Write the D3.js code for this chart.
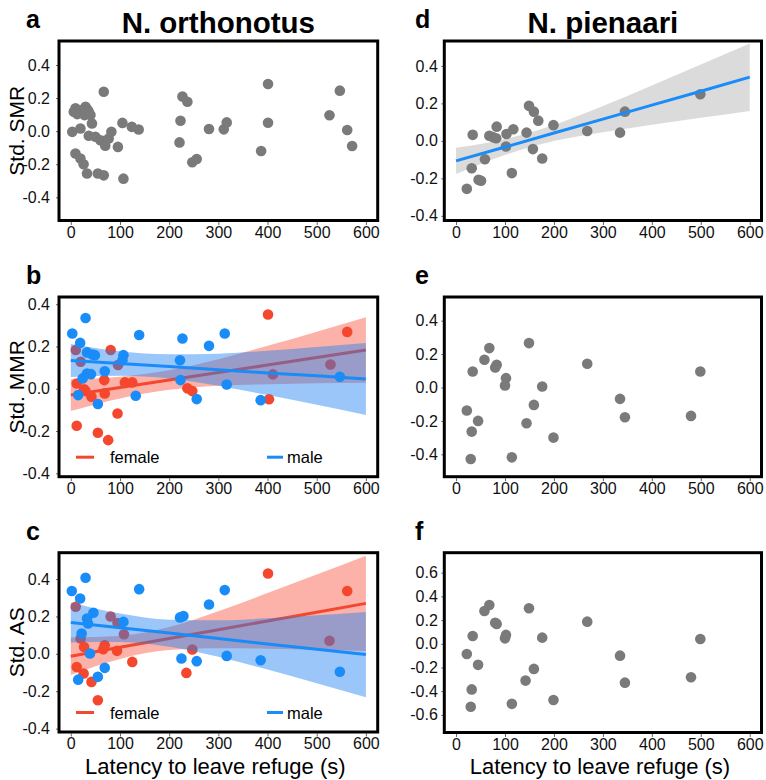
<!DOCTYPE html>
<html>
<head>
<meta charset="utf-8">
<script src="https://cdn.jsdelivr.net/npm/d3@7"></script>
<style>
  body { margin: 0; background: #fff; }
  svg { font-family: "Liberation Sans", Arial, Helvetica, sans-serif; }
</style>
</head>
<body>
<svg id="fig" width="766" height="780"></svg>
<script>
// ---- tick labels / shared x positions of fitted curves
var xTicks = [0, 100, 200, 300, 400, 500, 600];
var yTicks = [-0.4, -0.2, 0, 0.2, 0.4];
var yTicksF = [-0.6, -0.4, -0.2, 0, 0.2, 0.4, 0.6];
var fitX = [0, 100, 200, 300, 400, 500, 600];
var sexLabels = ['female', 'male'];

// ---- a: N. orthonotus, SMR
var smrOrthX = [3, 6, 9.5, 13, 17, 23, 28, 30, 34, 36.5, 40, 43, 19.6, 36.5, 50, 60, 66, 70, 77, 82.5, 95.8,
  105, 124, 138, 9.5, 19.6, 26, 33, 55, 67, 107, 67,
  227, 237, 223, 221, 247, 256, 281, 311, 317, 387, 401, 401, 526, 547, 562, 572];
var smrOrthY = [-0.004, 0.117, 0.138, 0.103, 0.12, 0.127, 0.097, 0.147, 0.13, 0.117, 0.097, 0.047, 0.016, -0.028, -0.034, -0.055, -0.06, -0.088, -0.044, -0.004, -0.095,
  0.05, 0.026, 0.01, -0.135, -0.165, -0.2, -0.256, -0.256, -0.267, -0.287, 0.238,
  0.209, 0.178, 0.063, -0.068, -0.188, -0.168, 0.013, 0.011, 0.053, -0.12, 0.285, 0.051, 0.096, 0.245, 0.007, -0.09];

// ---- b: N. orthonotus, MMR by sex
var mmrFemX = [10, 12, 12, 20, 27, 30, 42, 55, 68, 69, 76, 81, 95, 96, 110, 125, 237, 247, 401, 403, 411, 528, 562];
var mmrFemY = [0.183, -0.175, 0.025, 0.128, -0.002, -0.011, -0.038, -0.208, 0.041, -0.022, -0.243, 0.183, -0.117, 0.112, 0.03, 0.03, 0.002, -0.011, 0.351, -0.05, 0.068, 0.115, 0.269];
var mmrMalX = [3, 19, 15, 30, 33, 44, 49, 24, 33, 41, 55, 69, 107, 105, 132, 139, 222, 227, 223, 256, 281, 313, 317, 386, 547];
var mmrMalY = [0.261, 0.217, -0.03, 0.335, 0.172, 0.162, 0.159, 0.049, 0.072, 0.069, -0.072, 0.083, 0.159, 0.135, -0.033, 0.254, 0.135, 0.238, 0.041, -0.049, 0.203, 0.261, 0.02, -0.054, 0.057];
var mmrFemFit = [-0.03, 0.006, 0.041, 0.077, 0.112, 0.148, 0.183];
var mmrFemLo = [-0.105, -0.046, -0.005, 0.014, 0.021, 0.026, 0.028];
var mmrFemHi = [0.045, 0.057, 0.087, 0.14, 0.203, 0.27, 0.338];
var mmrMalFit = [0.134, 0.119, 0.105, 0.09, 0.075, 0.061, 0.046];
var mmrMalLo = [0.056, 0.061, 0.048, 0.014, -0.03, -0.076, -0.124];
var mmrMalHi = [0.212, 0.177, 0.163, 0.166, 0.18, 0.198, 0.216];

// ---- c: N. orthonotus, AS by sex
var asFemX = [10, 12, 26, 20, 27, 42, 55, 69, 66, 81, 95, 94, 108, 125, 235, 247, 401, 526, 562];
var asFemY = [0.252, -0.07, -0.105, 0.082, 0.037, -0.15, -0.248, 0.046, 0.025, 0.2, 0.165, 0.016, 0.105, -0.043, -0.102, 0.023, 0.43, 0.07, 0.336];
var asMalX = [2, 19, 30, 33, 35, 46, 22, 15, 39, 55, 69, 107, 139, 222, 229, 225, 256, 281, 313, 317, 386, 547];
var asMalY = [0.336, 0.296, 0.407, 0.189, 0.162, 0.22, 0.109, -0.138, 0.002, -0.123, -0.075, 0.171, 0.346, 0.195, 0.202, -0.025, -0.039, 0.264, 0.341, -0.011, -0.034, -0.096];
var asFemFit = [-0.013, 0.035, 0.082, 0.129, 0.176, 0.223, 0.27];
var asFemLo = [-0.113, -0.027, 0.02, 0.03, 0.027, 0.022, 0.015];
var asFemHi = [0.088, 0.096, 0.143, 0.228, 0.325, 0.424, 0.525];
var asMalFit = [0.168, 0.139, 0.111, 0.082, 0.053, 0.025, -0.004];
var asMalLo = [0.061, 0.063, 0.038, -0.016, -0.084, -0.157, -0.232];
var asMalHi = [0.275, 0.216, 0.183, 0.18, 0.19, 0.206, 0.224];

// ---- d: N. pienaari, SMR
var smrPienX = [22, 32, 34, 46, 51, 59, 68, 75, 82, 83, 102, 103, 114, 117, 144, 149, 159, 157, 168, 176, 199, 268, 335, 345, 499];
var smrPienY = [-0.256, -0.146, 0.032, -0.208, -0.213, -0.098, 0.027, 0.02, 0.014, 0.076, -0.03, 0.037, -0.172, 0.062, 0.044, 0.187, 0.156, -0.044, 0.108, -0.094, 0.084, 0.053, 0.044, 0.156, 0.249];
var smrPienFit = [-0.107, -0.033, 0.042, 0.116, 0.191, 0.265, 0.34];
var smrPienLo = [-0.177, -0.076, -0.001, 0.046, 0.086, 0.123, 0.16];
var smrPienHi = [-0.037, 0.01, 0.085, 0.186, 0.296, 0.407, 0.52];

// ---- e: N. pienaari, MMR
var mmrPienX = [22, 34, 32, 30, 45, 58, 68, 80, 83, 102, 100, 114, 144, 149, 159, 176, 199, 268, 335, 345, 480, 499];
var mmrPienY = [-0.138, 0.096, -0.264, -0.428, -0.2, 0.166, 0.236, 0.12, 0.136, 0.056, 0.012, -0.418, -0.214, 0.266, -0.104, 0.006, -0.3, 0.142, -0.068, -0.178, -0.17, 0.096];

// ---- f: N. pienaari, AS
var asPienX = [22, 34, 32, 30, 45, 58, 68, 80, 83, 102, 100, 114, 142, 149, 159, 176, 199, 268, 335, 345, 480, 499];
var asPienY = [-0.086, 0.066, -0.385, -0.531, -0.178, 0.277, 0.327, 0.178, 0.168, 0.075, 0.046, -0.507, -0.311, 0.3, -0.212, 0.052, -0.475, 0.187, -0.1, -0.328, -0.283, 0.04];

var RED = '#f5472e', BLUE = '#1a8cf8', GRAY = '#7a7a7a';
var RED_BAND = '#f8553d', BLUE_BAND = '#1c7ef2';

var svg = d3.select('#fig');

function pts(xs, ys) { return xs.map(function(x, i) { return {x: x, y: ys[i]}; }); }
function band(lo, hi) { return fitX.map(function(x, i) { return {x: x, lo: lo[i], hi: hi[i]}; }); }

var panels = [
  { letter: 'a', title: 'N. orthonotus', ylabel: 'Std. SMR', box: [59, 41, 377.7, 220.5], yDomain: [-0.54, 0.545], ticks: yTicks, pad: 6,
    layers: [ {type: 'pts', data: pts(smrOrthX, smrOrthY), fill: GRAY} ] },
  { letter: 'b', ylabel: 'Std. MMR', box: [59, 297, 377.7, 476.7], yDomain: [-0.416, 0.434], ticks: yTicks, pad: 6, legend: true,
    layers: [
      {type: 'band', data: band(mmrFemLo, mmrFemHi), fill: RED_BAND, op: 0.45},
      {type: 'line', data: pts(fitX, mmrFemFit), stroke: RED},
      {type: 'pts', data: pts(mmrFemX, mmrFemY), fill: RED},
      {type: 'band', data: band(mmrMalLo, mmrMalHi), fill: BLUE_BAND, op: 0.44},
      {type: 'line', data: pts(fitX, mmrMalFit), stroke: BLUE},
      {type: 'pts', data: pts(mmrMalX, mmrMalY), fill: BLUE}
    ] },
  { letter: 'c', ylabel: 'Std. AS', box: [59, 552.7, 377.7, 732], yDomain: [-0.418, 0.541], ticks: yTicks, pad: 6, legend: true, xlabel: true,
    layers: [
      {type: 'band', data: band(asFemLo, asFemHi), fill: RED_BAND, op: 0.45},
      {type: 'line', data: pts(fitX, asFemFit), stroke: RED},
      {type: 'pts', data: pts(asFemX, asFemY), fill: RED},
      {type: 'band', data: band(asMalLo, asMalHi), fill: BLUE_BAND, op: 0.44},
      {type: 'line', data: pts(fitX, asMalFit), stroke: BLUE},
      {type: 'pts', data: pts(asMalX, asMalY), fill: BLUE}
    ] },
  { letter: 'd', title: 'N. pienaari', box: [444.3, 41, 761.5, 220.5], yDomain: [-0.425, 0.533], ticks: yTicks, pad: 3.5,
    layers: [
      {type: 'band', data: band(smrPienLo, smrPienHi), fill: '#bdbdbd', op: 0.55},
      {type: 'pts', data: pts(smrPienX, smrPienY), fill: GRAY},
      {type: 'line', data: pts(fitX, smrPienFit), stroke: BLUE}
    ] },
  { letter: 'e', box: [444.3, 297, 761.5, 476.7], yDomain: [-0.534, 0.542], ticks: yTicks, pad: 3.5,
    layers: [ {type: 'pts', data: pts(mmrPienX, mmrPienY), fill: GRAY} ] },
  { letter: 'f', box: [444.3, 552.7, 761.5, 732.5], yDomain: [-0.749, 0.769], ticks: yTicksF, pad: 3.5, xlabel: true,
    layers: [ {type: 'pts', data: pts(asPienX, asPienY), fill: GRAY} ] }
];

var fmt = function(d) { return Math.abs(d) < 1e-9 ? '0.0' : d.toFixed(1); };

panels.forEach(function(p) {
  var x0 = p.box[0], y0 = p.box[1], x1 = p.box[2], y1 = p.box[3];
  var x = d3.scaleLinear().domain([-24, 624]).range([x0, x1]);
  var y = d3.scaleLinear().domain(p.yDomain).range([y1, y0]);
  var g = svg.append('g');

  p.layers.forEach(function(l) {
    if (l.type == 'band') {
      g.append('path').datum(l.data)
        .attr('d', d3.area().curve(d3.curveMonotoneX)
          .x(function(d) { return x(d.x); })
          .y0(function(d) { return y(d.lo); })
          .y1(function(d) { return y(d.hi); }))
        .attr('fill', l.fill).attr('fill-opacity', l.op);
    } else if (l.type == 'line') {
      g.append('path').datum(l.data)
        .attr('d', d3.line().x(function(d) { return x(d.x); }).y(function(d) { return y(d.y); }))
        .attr('fill', 'none').attr('stroke', l.stroke).attr('stroke-width', 3);
    } else {
      g.selectAll(null).data(l.data).enter().append('circle')
        .attr('cx', function(d) { return x(d.x); })
        .attr('cy', function(d) { return y(d.y); })
        .attr('r', 5.3).attr('fill', l.fill);
    }
  });

  // axes
  var ax = g.append('g').attr('transform', 'translate(0,' + (y1 + 1.5) + ')')
    .call(d3.axisBottom(x).tickValues(xTicks).tickSize(3).tickPadding(1.5));
  var ay = g.append('g').attr('transform', 'translate(' + x0 + ',0)')
    .call(d3.axisLeft(y).tickValues(p.ticks).tickFormat(fmt).tickSize(3).tickPadding(p.pad));
  [ax, ay].forEach(function(a) {
    a.select('.domain').remove();
    a.selectAll('line').attr('stroke', '#666');
    a.selectAll('text').attr('font-size', 16).attr('fill', '#111').attr('font-family', null);
  });

  g.append('rect').attr('x', x0).attr('y', y0).attr('width', x1 - x0).attr('height', y1 - y0)
    .attr('fill', 'none').attr('stroke', '#000').attr('stroke-width', 3);

  if (p.legend) {
    var ly = y1 - 19.5;
    [[RED, x0 + 17, x0 + 35, x0 + 51], [BLUE, x0 + 208, x0 + 224, x0 + 228]].forEach(function(s, i) {
      g.append('line').attr('x1', s[1]).attr('x2', s[2]).attr('y1', ly).attr('y2', ly)
        .attr('stroke', s[0]).attr('stroke-width', 3);
      g.append('text').attr('x', s[3]).attr('y', ly + 6).attr('font-size', 16.5).text(sexLabels[i]);
    });
  }

  var cx = (x0 + x1) / 2;
  if (p.title) {
    svg.append('text').attr('x', cx).attr('y', 33).attr('text-anchor', 'middle')
      .attr('font-size', 29.5).attr('font-weight', 'bold').text(p.title);
  }
  svg.append('text').attr('x', x0 < 200 ? 26 : 415).attr('y', y0 - 13).attr('font-size', 25)
    .attr('font-weight', 'bold').text(p.letter);
  if (p.ylabel) {
    svg.append('text').attr('transform', 'translate(23.5,' + ((y0 + y1) / 2) + ') rotate(-90)')
      .attr('text-anchor', 'middle').attr('font-size', 21).text(p.ylabel);
  }
  if (p.xlabel) {
    svg.append('text').attr('x', cx - 3).attr('y', 774).attr('text-anchor', 'middle')
      .attr('font-size', 22).text('Latency to leave refuge (s)');
  }
});
</script>
</body>
</html>
